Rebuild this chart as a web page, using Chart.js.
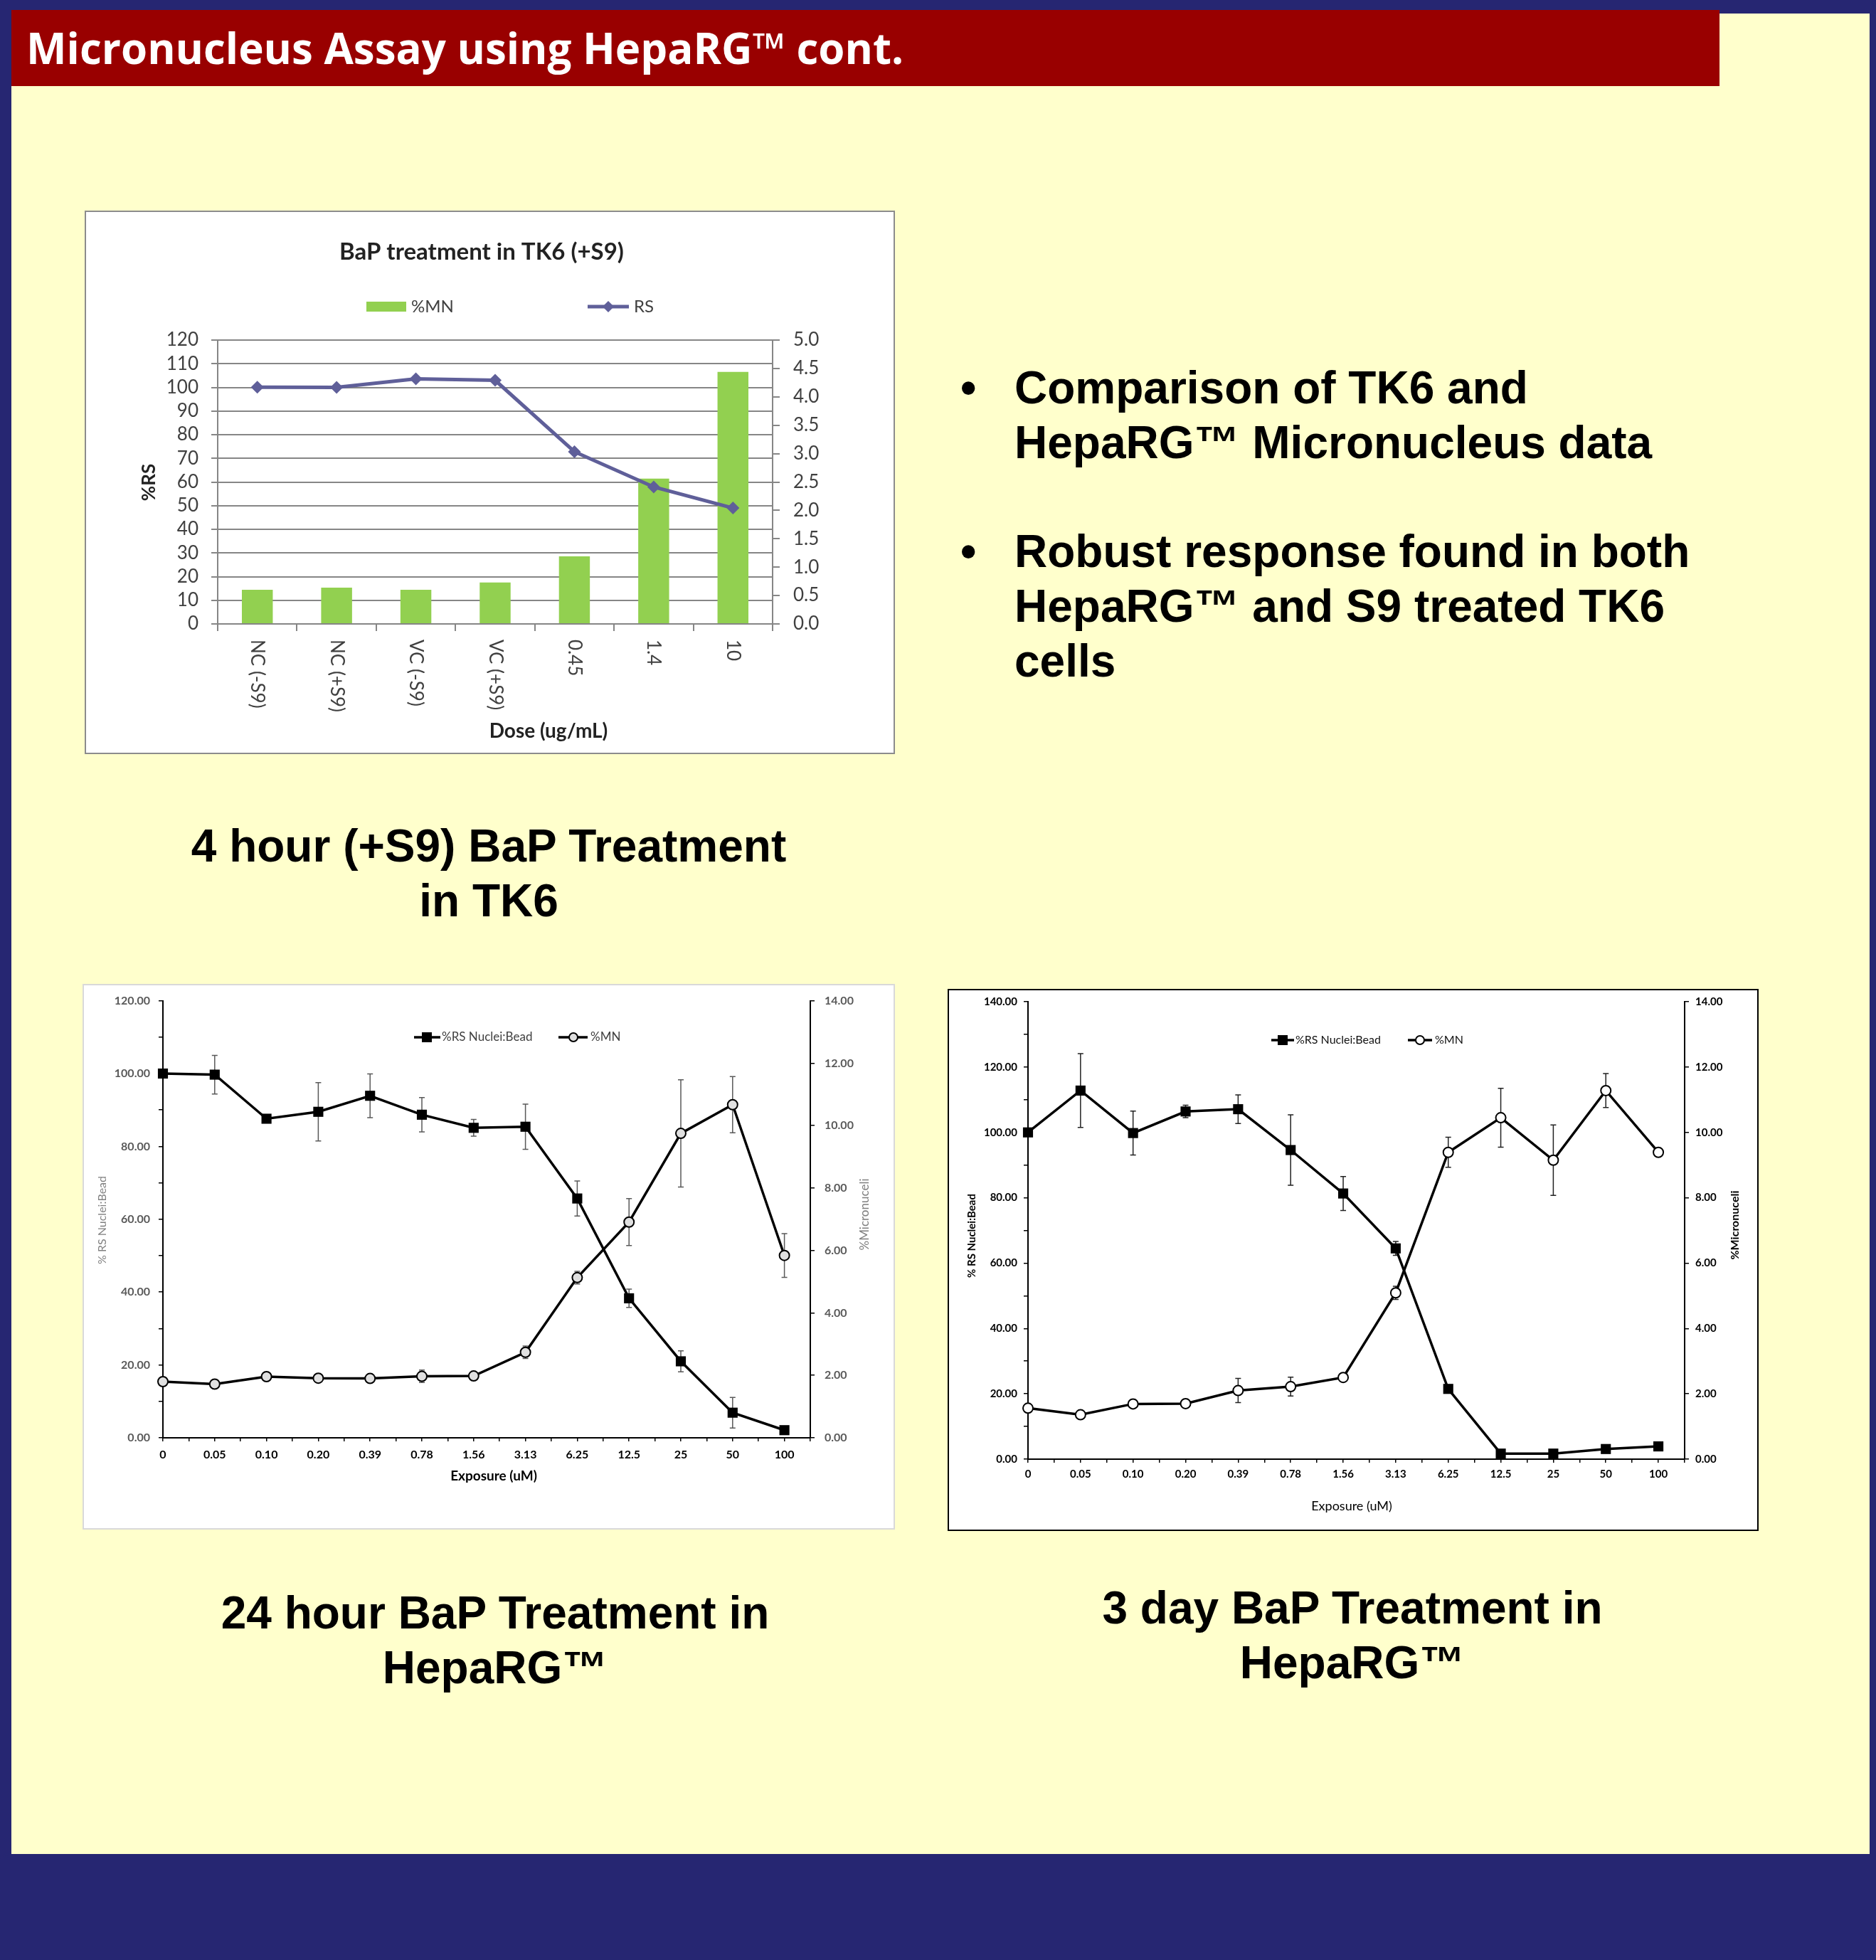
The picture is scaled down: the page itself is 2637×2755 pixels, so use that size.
<!DOCTYPE html>
<html>
<head>
<meta charset="utf-8">
<script src="https://cdn.jsdelivr.net/npm/chart.js@4.4.1/dist/chart.umd.min.js"></script>
<style>
  html, body { margin: 0; padding: 0; }
  body { width: 2637px; height: 2755px; background: #262672; position: relative; overflow: hidden; }
  .abs { position: absolute; }
  #panel { left: 16px; top: 19px; width: 2612px; height: 2587px; background: #FFFFCC; }
  #band { left: 16px; top: 14px; width: 2401px; height: 107px; background: #990000; }
  #heading { left: 37px; top: 37px; font: bold 60px "Open Sans", sans-serif; line-height: 61px; color: #fff; white-space: nowrap; }
  .bigtext { font: bold 64px "Liberation Sans", Arial, sans-serif; line-height: 77px; color: #000; white-space: nowrap; }
  .caption { text-align: center; width: 1000px; }
  canvas { position: absolute; }
</style>
</head>
<body>
<div id="panel" class="abs"></div>
<div id="band" class="abs"></div>
<div id="heading" class="abs">Micronucleus Assay using HepaRG™ cont.</div>

<div class="abs bigtext" style="left:1350px;top:507px">•</div>
<div class="abs bigtext" style="left:1426px;top:507px">Comparison of TK6 and<br>HepaRG™ Micronucleus data</div>
<div class="abs bigtext" style="left:1350px;top:737px">•</div>
<div class="abs bigtext" style="left:1426px;top:737px">Robust response found in both<br>HepaRG™ and S9 treated TK6<br>cells</div>

<div class="abs bigtext caption" style="left:187px;top:1151px">4 hour (+S9) BaP Treatment<br>in TK6</div>
<div class="abs bigtext caption" style="left:196px;top:2229px">24 hour BaP Treatment in<br>HepaRG™</div>
<div class="abs bigtext caption" style="left:1401px;top:2222px">3 day BaP Treatment in<br>HepaRG™</div>

<canvas id="tk6Chart" width="1139" height="764" style="left:119px;top:296px"></canvas>
<canvas id="hepa24Chart" width="1142" height="767" style="left:116px;top:1383px"></canvas>
<canvas id="hepa3dChart" width="1140" height="762" style="left:1332px;top:1390px"></canvas>

<script>
// TK6, 4 hour (+S9)
const tk6Doses = ['NC (-S9)', 'NC (+S9)', 'VC (-S9)', 'VC (+S9)', '0.45', '1.4', '10'];
const tk6MN = [0.60, 0.64, 0.60, 0.73, 1.19, 2.56, 4.44];
const tk6RS = [100.1, 100.0, 103.6, 103.0, 72.8, 57.9, 49.0];

// HepaRG exposure steps (uM)
const exposureLabels = ['0', '0.05', '0.10', '0.20', '0.39', '0.78', '1.56', '3.13', '6.25', '12.5', '25', '50', '100'];

// 24 hour
const rs24h = [100.0, 99.7, 87.6, 89.5, 93.9, 88.7, 85.1, 85.4, 65.7, 38.3, 21.0, 6.9, 2.1];
const rs24hErr = [0.5, 5.3, 1.0, 8.0, 6.0, 4.7, 2.3, 6.2, 4.8, 2.5, 2.9, 4.2, 0.5];
const mn24h = [1.80, 1.72, 1.96, 1.91, 1.90, 1.97, 1.98, 2.74, 5.13, 6.91, 9.75, 10.67, 5.84];
const mn24hErr = [0.05, 0.1, 0.05, 0.1, 0.05, 0.2, 0.05, 0.2, 0.2, 0.75, 1.72, 0.9, 0.7];

// 3 day
const rs3d = [100.0, 112.8, 99.8, 106.4, 107.1, 94.6, 81.3, 64.5, 21.5, 1.7, 1.7, 3.1, 3.9];
const rs3dErr = [0.5, 11.3, 6.7, 1.9, 4.4, 10.8, 5.2, 2.1, 0.5, 0.5, 0.5, 0.5, 0.5];
const mn3d = [1.56, 1.36, 1.69, 1.70, 2.10, 2.22, 2.50, 5.09, 9.39, 10.45, 9.15, 11.28, 9.39];
const mn3dErr = [0.1, 0.05, 0.13, 0.13, 0.37, 0.29, 0.05, 0.2, 0.46, 0.9, 1.08, 0.52, 0.1];

Chart.defaults.font.family = 'Lato, sans-serif';

// small drawing helpers for titles / legends
function text(ctx, str, x, y, font, color, align, rot) {
  ctx.save();
  ctx.font = font;
  ctx.fillStyle = color;
  ctx.textAlign = align || 'center';
  ctx.textBaseline = 'middle';
  ctx.translate(x, y);
  if (rot) ctx.rotate(rot);
  ctx.fillText(str, 0, 0);
  ctx.restore();
}

function marker(ctx, style, x, y, r, fill, stroke) {
  ctx.beginPath();
  if (style === 'rect') ctx.rect(x - r, y - r, 2 * r, 2 * r);
  else if (style === 'rectRot') {
    ctx.moveTo(x, y - r); ctx.lineTo(x + r, y); ctx.lineTo(x, y + r); ctx.lineTo(x - r, y); ctx.closePath();
  } else ctx.arc(x, y, r, 0, Math.PI * 2);
  ctx.fillStyle = fill;
  ctx.fill();
  if (stroke) { ctx.strokeStyle = stroke; ctx.lineWidth = 2; ctx.stroke(); }
}

function legendLine(ctx, x0, x1, y, color, width) {
  ctx.strokeStyle = color;
  ctx.lineWidth = width;
  ctx.beginPath(); ctx.moveTo(x0, y); ctx.lineTo(x1, y); ctx.stroke();
}

// white box, frame and the text around the plot
function decor(frameColor, drawText) {
  return {
    id: 'decor',
    beforeDraw(chart) {
      const { ctx, width, height } = chart;
      ctx.save();
      ctx.fillStyle = '#fff';
      ctx.fillRect(0, 0, width, height);
      ctx.strokeStyle = frameColor;
      ctx.lineWidth = 2;
      ctx.strokeRect(1, 1, width - 2, height - 2);
      ctx.restore();
    },
    afterDraw(chart) {
      chart.ctx.save();
      drawText(chart, chart.ctx);
      chart.ctx.restore();
    },
  };
}

// vertical error bars from each dataset's "errors" array
const errorBars = {
  id: 'errorBars',
  beforeDatasetsDraw(chart, args, opts) {
    const ctx = chart.ctx;
    ctx.save();
    ctx.strokeStyle = opts.color || '#595959';
    ctx.lineWidth = 1.5;
    chart.data.datasets.forEach((ds, di) => {
      if (!ds.errors) return;
      const meta = chart.getDatasetMeta(di);
      const yScale = chart.scales[meta.yAxisID];
      ds.data.forEach((pt, i) => {
        const x = meta.data[i].x;
        const top = yScale.getPixelForValue(pt.y + ds.errors[i]);
        const bot = yScale.getPixelForValue(pt.y - ds.errors[i]);
        ctx.beginPath();
        ctx.moveTo(x, top); ctx.lineTo(x, bot);
        ctx.moveTo(x - 4, top); ctx.lineTo(x + 4, top);
        ctx.moveTo(x - 4, bot); ctx.lineTo(x + 4, bot);
        ctx.stroke();
      });
    });
    ctx.restore();
  },
};

// ---------- TK6 chart ----------
new Chart(document.getElementById('tk6Chart'), {
  type: 'bar',
  data: {
    labels: tk6Doses,
    datasets: [
      {
        type: 'line',
        label: 'RS',
        data: tk6RS,
        yAxisID: 'y',
        order: 0,
        borderColor: '#5F5F99',
        backgroundColor: '#5F5F99',
        borderWidth: 5,
        pointStyle: 'rectRot',
        pointRadius: 9,
        pointBorderWidth: 0,
        tension: 0,
      },
      {
        label: '%MN',
        data: tk6MN,
        yAxisID: 'y1',
        order: 1,
        backgroundColor: '#92D050',
        barPercentage: 0.39,
        categoryPercentage: 1,
      },
    ],
  },
  options: {
    responsive: false,
    animation: false,
    devicePixelRatio: 1,
    layout: { padding: { top: 182 } },
    plugins: { legend: { display: false }, tooltip: { enabled: false } },
    scales: {
      x: {
        grid: { offset: true, drawOnChartArea: false, tickLength: 10, color: '#868686', lineWidth: 2 },
        border: { color: '#868686', width: 2 },
        ticks: { display: false },
        afterFit: (s) => { s.height = 183; },
      },
      y: {
        position: 'left',
        min: 0,
        max: 120,
        ticks: { stepSize: 10, autoSkip: false, padding: 18, color: '#404040', font: { size: 26 } },
        grid: { color: '#868686', lineWidth: 2, tickLength: 9 },
        border: { color: '#868686', width: 2 },
        afterFit: (s) => { s.width = 187; },
      },
      y1: {
        position: 'right',
        min: 0,
        max: 5,
        ticks: { stepSize: 0.5, autoSkip: false, padding: 19, color: '#404040', font: { size: 26 }, callback: (v) => v.toFixed(1) },
        grid: { drawOnChartArea: false, color: '#868686', lineWidth: 2, tickLength: 10 },
        border: { color: '#868686', width: 2 },
        afterFit: (s) => { s.width = 172; },
      },
    },
  },
  plugins: [
    decor('#8C8C8C', (chart, ctx) => {
      const area = chart.chartArea;
      text(ctx, 'BaP treatment in TK6 (+S9)', 558, 58, 'bold 33px Lato', '#222');
      // legend
      ctx.fillStyle = '#92D050';
      ctx.fillRect(396, 128, 56, 14);
      text(ctx, '%MN', 459, 135, '24px Lato', '#404040', 'left');
      legendLine(ctx, 707, 765, 135, '#5F5F99', 5);
      marker(ctx, 'rectRot', 736, 135, 8, '#5F5F99');
      text(ctx, 'RS', 772, 135, '24px Lato', '#404040', 'left');
      // axis titles
      text(ctx, '%RS', 91, 382, 'bold 26px Lato', '#222', 'center', -Math.PI / 2);
      text(ctx, 'Dose (ug/mL)', 652, 732, 'bold 28px Lato', '#222');
      // x labels, turned clockwise
      const xs = chart.scales.x;
      tk6Doses.forEach((lab, i) => {
        text(ctx, lab, xs.getPixelForValue(i), area.bottom + 22, '26px Lato', '#404040', 'left', Math.PI / 2);
      });
    }),
  ],
});

// ---------- HepaRG charts ----------
function hepaChart(id, cfg) {
  const tickFont = { size: cfg.tickSize, weight: 'bold' };
  return new Chart(document.getElementById(id), {
    type: 'line',
    data: {
      datasets: [
        {
          label: '%RS Nuclei:Bead',
          data: cfg.rs.map((v, i) => ({ x: i, y: v })),
          errors: cfg.rsErr,
          yAxisID: 'y',
          borderColor: '#000',
          backgroundColor: '#000',
          borderWidth: 3.5,
          pointStyle: 'rect',
          pointRadius: 10,
          pointBorderWidth: 0,
          tension: 0,
          clip: false,
        },
        {
          label: '%MN',
          data: cfg.mn.map((v, i) => ({ x: i, y: v })),
          errors: cfg.mnErr,
          yAxisID: 'y1',
          borderColor: '#000',
          backgroundColor: cfg.circleFill,
          pointBackgroundColor: cfg.circleFill,
          pointBorderColor: '#000',
          borderWidth: 3.5,
          pointStyle: 'circle',
          pointRadius: 7,
          pointBorderWidth: 2,
          tension: 0,
          clip: false,
        },
      ],
    },
    options: {
      responsive: false,
      animation: false,
      devicePixelRatio: 1,
      layout: { padding: { top: cfg.plotTop } },
      plugins: {
        legend: { display: false },
        tooltip: { enabled: false },
        errorBars: { color: cfg.errColor },
      },
      scales: {
        x: {
          type: 'linear',
          min: 0,
          max: 12.5,
          ticks: {
            stepSize: 0.5,
            autoSkip: false,
            maxRotation: 0,
            padding: cfg.xPad,
            color: '#000',
            font: tickFont,
            callback: (v) => (Number.isInteger(v) ? exposureLabels[v] : ''),
          },
          grid: { drawOnChartArea: false, color: '#000', lineWidth: 1.5, tickLength: 5 },
          border: { color: '#000', width: 2 },
          afterFit: (s) => { s.height = cfg.xHeight; },
        },
        y: {
          position: 'left',
          min: 0,
          max: cfg.rsMax,
          ticks: {
            stepSize: 10,
            autoSkip: false,
            padding: cfg.leftPad,
            color: cfg.tickColor,
            font: tickFont,
            callback: (v) => (v % 20 === 0 ? v.toFixed(2) : ''),
          },
          grid: { drawOnChartArea: false, color: '#000', lineWidth: 1.5, tickLength: 6 },
          border: { color: '#000', width: 2 },
          afterFit: (s) => { s.width = cfg.leftWidth; },
        },
        y1: {
          position: 'right',
          min: 0,
          max: 14,
          ticks: {
            stepSize: 2,
            padding: cfg.rightPad,
            color: cfg.tickColor,
            font: tickFont,
            callback: (v) => v.toFixed(2),
          },
          grid: { drawOnChartArea: false, color: '#000', lineWidth: 1.5, tickLength: 6 },
          border: { color: '#000', width: 2 },
          afterFit: (s) => { s.width = cfg.rightWidth; },
        },
      },
    },
    plugins: [errorBars, decor(cfg.frame, cfg.drawText)],
  });
}

hepaChart('hepa24Chart', {
  rs: rs24h, rsErr: rs24hErr, mn: mn24h, mnErr: mn24hErr,
  rsMax: 120, circleFill: '#E0E0E0', errColor: '#595959', frame: '#D9D9D9',
  tickSize: 16, tickColor: '#595959',
  plotTop: 21, leftWidth: 113, rightWidth: 119, xHeight: 129,
  leftPad: 12, rightPad: 14, xPad: 9,
  drawText: (chart, ctx) => {
    legendLine(ctx, 466, 503, 75, '#000', 3.5);
    marker(ctx, 'rect', 484, 75, 7, '#000');
    text(ctx, '%RS Nuclei:Bead', 505, 75, '17px Lato', '#404040', 'left');
    legendLine(ctx, 669, 710, 75, '#000', 3.5);
    marker(ctx, 'circle', 690, 75, 6, '#E0E0E0', '#000');
    text(ctx, '%MN', 714, 75, '17px Lato', '#404040', 'left');
    text(ctx, '% RS Nuclei:Bead', 28, 332, '16px Lato', '#808080', 'center', -Math.PI / 2);
    text(ctx, '%Micronuceli', 1100, 324, '17px Lato', '#808080', 'center', -Math.PI / 2);
    text(ctx, 'Exposure (uM)', 578, 692, 'bold 19px Lato', '#000');
  },
});

hepaChart('hepa3dChart', {
  rs: rs3d, rsErr: rs3dErr, mn: mn3d, mnErr: mn3dErr,
  rsMax: 140, circleFill: '#FFFFFF', errColor: '#222', frame: '#000',
  tickSize: 15, tickColor: '#000',
  plotTop: 16, leftWidth: 113, rightWidth: 104, xHeight: 101,
  leftPad: 9, rightPad: 9, xPad: 7,
  drawText: (chart, ctx) => {
    legendLine(ctx, 455, 487, 72, '#000', 3.5);
    marker(ctx, 'rect', 471, 72, 7, '#000');
    text(ctx, '%RS Nuclei:Bead', 489, 72, '16px Lato', '#111', 'left');
    legendLine(ctx, 647, 681, 72, '#000', 3.5);
    marker(ctx, 'circle', 664, 72, 6, '#FFFFFF', '#000');
    text(ctx, '%MN', 685, 72, '16px Lato', '#111', 'left');
    text(ctx, '% RS Nuclei:Bead', 34, 347, 'bold 15px Lato', '#000', 'center', -Math.PI / 2);
    text(ctx, '%Micronuceli', 1107, 332, 'bold 16px Lato', '#000', 'center', -Math.PI / 2);
    text(ctx, 'Exposure (uM)', 568, 727, '18px Lato', '#000');
  },
});
</script>
</body>
</html>
